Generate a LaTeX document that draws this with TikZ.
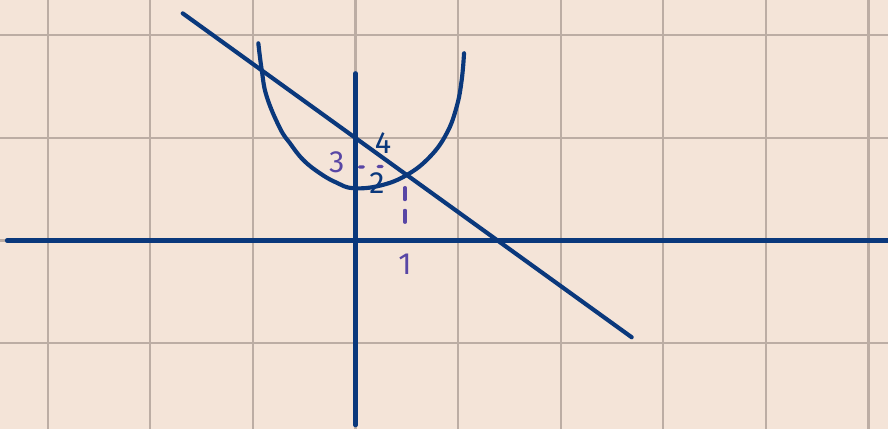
\documentclass[tikz,border=0pt]{standalone}
\usepackage{fontspec}
\setmainfont{Fira Sans}
\usetikzlibrary{calc}
\definecolor{PlotPaper}{RGB}{244,228,216}
\definecolor{PlotGrid}{RGB}{188,173,164}
\definecolor{PlotNavy}{RGB}{10,56,124}
\definecolor{PlotPurple}{RGB}{88,70,165}
\tikzset{
  plot/grid/.style={draw=PlotGrid, line width=0.65pt},
  plot/axis/.style={draw=PlotNavy, line width=1.15pt, line cap=round},
  plot/curve/.style={draw=PlotNavy, line width=1.15pt, line cap=round},
  plot/guide/.style={draw=PlotPurple, line width=0.9pt, line cap=round},
  plot/ink/.style={font=\fontsize{8.5}{9}\selectfont, text=PlotNavy, inner sep=0pt},
  plot/mark/.style={font=\fontsize{8.5}{9}\selectfont, text=PlotPurple, inner sep=0pt}
}

\begin{document}
\begin{tikzpicture}[x=1cm,y=1cm]
  \fill[PlotPaper] (-3.465,-1.837) rectangle (5.19,2.344);
  \useasboundingbox (-3.465,-1.837) rectangle (5.19,2.344);
  \foreach \gx in {-3,...,5}
    \draw[plot/grid] (\gx,-1.837) -- (\gx,2.344);
  \foreach \gy in {-1,...,2}
    \draw[plot/grid] (-3.465,\gy) -- (5.19,\gy);

  \coordinate (xstart) at (-3.397,0);
  \coordinate (xend) at (5.19,0);
  \coordinate (ytop) at (0,1.63);
  \coordinate (ybottom) at (0,-1.80);
  \draw[plot/axis] (xstart) -- (xend);
  \draw[plot/axis] (ybottom) -- (ytop);

  \coordinate (linestart) at (-1.684,2.214);
  \coordinate (lineend) at (2.692,-0.943);
  \draw[plot/curve] (linestart) -- (lineend);

  \draw[plot/curve] plot[smooth, tension=0.7] coordinates {
    (-0.947,1.922) (-0.914,1.662) (-0.865,1.402) (-0.736,1.094)
    (-0.638,0.947) (-0.509,0.785) (-0.346,0.655) (-0.183,0.563)
    (-0.021,0.510) (0.239,0.535) (0.499,0.638) (0.726,0.817)
    (0.889,1.045) (0.986,1.304) (1.035,1.564) (1.058,1.825)};

  \coordinate (hleft) at (0.038,0.716);
  \coordinate (hright) at (0.285,0.722);
  \coordinate (vtop) at (0.482,0.515);
  \coordinate (vfoot) at (0.482,0.175);
  \draw[plot/guide, dash pattern=on 1.1pt off 4.1pt] (hleft) -- (hright);
  \draw[plot/guide, dash pattern=on 3.3pt off 3pt] (vtop) -- (vfoot);

  \node[plot/ink] (four) at (0.268,0.950) {4};
  \node[plot/mark] (three) at (-0.183,0.760) {3};
  \node[plot/ink] (two) at (0.210,0.560) {2};
  \node[plot/mark] (one) at (0.482,-0.229) {1};
\end{tikzpicture}
\end{document}
